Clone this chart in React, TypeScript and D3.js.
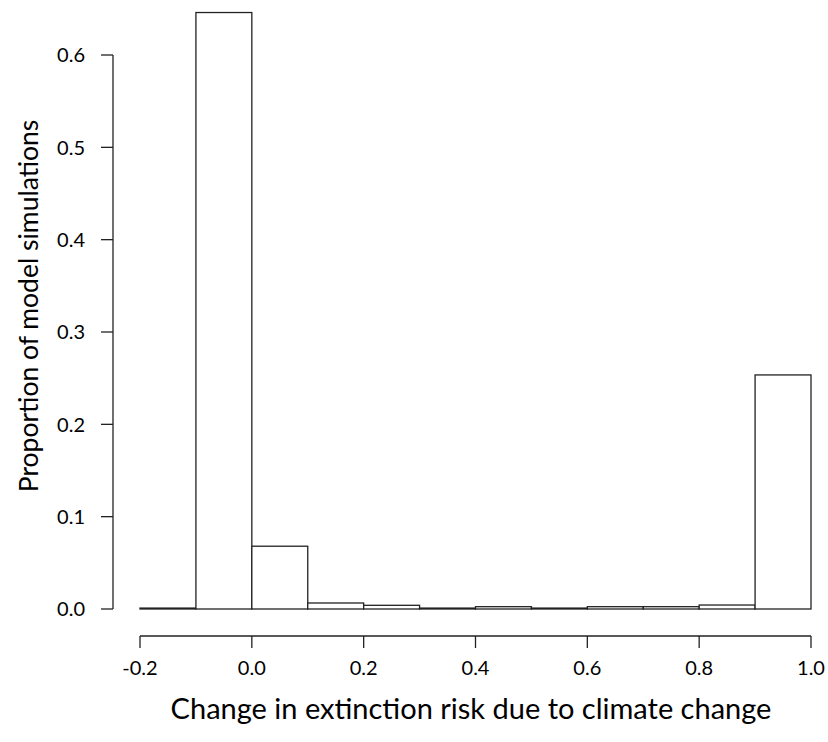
import { useEffect, useRef } from 'react'
import * as d3 from 'd3'

// histogram bins (left edges) and proportions
const binStarts = [-0.2, -0.1, 0.0, 0.1, 0.2, 0.3, 0.4, 0.5, 0.6, 0.7, 0.8, 0.9]
const proportions = [0.001, 0.646, 0.068, 0.0065, 0.004, 0.001, 0.0025, 0.001, 0.0025, 0.0025, 0.0043, 0.2535]
const xTicks = [-0.2, 0.0, 0.2, 0.4, 0.6, 0.8, 1.0]
const yTicks = [0.0, 0.1, 0.2, 0.3, 0.4, 0.5, 0.6]

const binWidth = 0.1
const font = 'Lato, "Open Sans", sans-serif'

export default function App() {
  const svgRef = useRef<SVGSVGElement>(null)

  useEffect(() => {
    if (!svgRef.current) return
    document.body.style.margin = '0'
    document.body.style.overflow = 'hidden'

    const svg = d3.select(svgRef.current)
    svg.selectAll('*').remove()

    const W = 828
    const H = 742

    const x = d3.scaleLinear().domain([-0.2, 1.0]).range([140, 811])
    const y = d3.scaleLinear().domain([0, 0.6]).range([609, 55])

    svg.attr('width', W).attr('height', H)

    svg.append('rect').attr('width', W).attr('height', H).attr('fill', '#fff')

    // bars
    svg.append('g')
      .selectAll('rect')
      .data(binStarts.map((b, i) => ({ b, v: proportions[i] })))
      .enter().append('rect')
      .attr('x', d => x(d.b))
      .attr('y', d => y(d.v))
      .attr('width', d => x(d.b + binWidth) - x(d.b))
      .attr('height', d => y(0) - y(d.v))
      .attr('fill', '#fff')
      .attr('stroke', '#222')
      .attr('stroke-width', 1.3)

    // y axis
    const ya = svg.append('g')
    ya.append('line')
      .attr('x1', 113).attr('x2', 113)
      .attr('y1', y(0)).attr('y2', y(0.6))
      .attr('stroke', '#222').attr('stroke-width', 1.3)
    yTicks.forEach(t => {
      ya.append('line')
        .attr('x1', 101).attr('x2', 113)
        .attr('y1', y(t)).attr('y2', y(t))
        .attr('stroke', '#222').attr('stroke-width', 1.3)
      ya.append('text')
        .attr('x', 85).attr('y', y(t))
        .attr('dy', '0.36em')
        .attr('text-anchor', 'end')
        .style('font-family', font)
        .style('font-size', '20px')
        .text(t.toFixed(1))
    })

    // x axis
    const xa = svg.append('g')
    const axisY = 636
    xa.append('line')
      .attr('x1', x(-0.2)).attr('x2', x(1.0))
      .attr('y1', axisY).attr('y2', axisY)
      .attr('stroke', '#222').attr('stroke-width', 1.3)
    xTicks.forEach(t => {
      xa.append('line')
        .attr('x1', x(t)).attr('x2', x(t))
        .attr('y1', axisY).attr('y2', axisY + 12)
        .attr('stroke', '#222').attr('stroke-width', 1.3)
      xa.append('text')
        .attr('x', x(t)).attr('y', 675)
        .attr('text-anchor', 'middle')
        .style('font-family', font)
        .style('font-size', '20px')
        .text(t.toFixed(1))
    })

    // axis titles
    svg.append('text')
      .attr('x', 471)
      .attr('y', 719)
      .attr('text-anchor', 'middle')
      .style('font-family', font)
      .style('font-size', '29px')
      .text('Change in extinction risk due to climate change')

    svg.append('text')
      .attr('transform', `translate(38, 306) rotate(-90)`)
      .attr('text-anchor', 'middle')
      .style('font-family', font)
      .style('font-size', '26.5px')
      .text('Proportion of model simulations')
  }, [])

  return (
    <div style={{ position: 'absolute', left: 0, top: 0 }}>
      <svg ref={svgRef} style={{ display: 'block' }}></svg>
    </div>
  )
}
